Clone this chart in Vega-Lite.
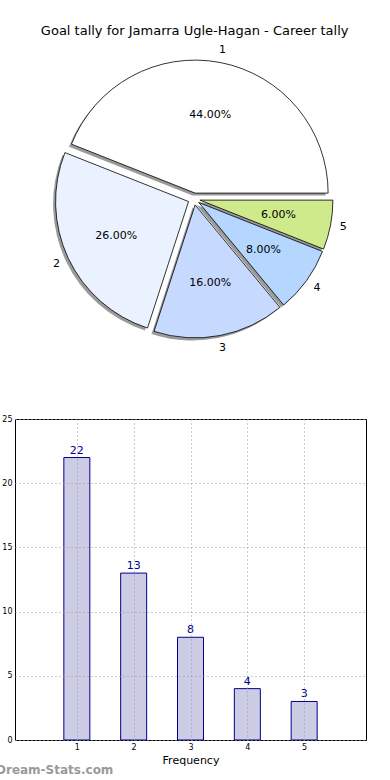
{
  "$schema": "https://vega.github.io/schema/vega-lite/v6.json",
  "background": "white",
  "padding": {"left": -12, "top": 24, "right": 0, "bottom": 0},
  "title": {"text": "Goal tally for Jamarra Ugle-Hagan - Career tally", "fontSize": 13, "fontWeight": "normal", "font": "DejaVu Sans", "color": "black", "anchor": "middle", "offset": 6, "dx": 14},
  "datasets": {
    "goals": [
      {"goals": 1, "n": 22, "share": 0.44},
      {"goals": 2, "n": 13, "share": 0.26},
      {"goals": 3, "n": 8, "share": 0.16},
      {"goals": 4, "n": 4, "share": 0.08},
      {"goals": 5, "n": 3, "share": 0.06}
    ]
  },
  "spacing": 60,
  "vconcat": [
    {
      "width": 358,
      "height": 300,
      "data": {"name": "goals"},
      "view": {"stroke": null},
      "encoding": {
        "theta": {"field": "n", "type": "quantitative", "stack": true, "scale": {"range": [1.5708, -4.7124]}},
        "order": {"field": "goals", "type": "quantitative", "sort": "ascending"}
      },
      "layer": [
        {
          "mark": {"type": "arc", "outerRadius": 133, "fill": "#9a9a9a",
            "xOffset": {"expr": "-2.5 + 6*sin(PI/2 - PI*(datum.n_start+datum.n_end)/50)"},
            "yOffset": {"expr": "2.5 - 6*cos(PI/2 - PI*(datum.n_start+datum.n_end)/50)"}}
        },
        {
          "mark": {"type": "arc", "outerRadius": 133, "stroke": "black", "strokeWidth": 0.8,
            "xOffset": {"expr": "6*sin(PI/2 - PI*(datum.n_start+datum.n_end)/50)"},
            "yOffset": {"expr": "-6*cos(PI/2 - PI*(datum.n_start+datum.n_end)/50)"}},
          "encoding": {
            "color": {"field": "goals", "type": "nominal", "legend": null,
              "scale": {"domain": [1, 2, 3, 4, 5], "range": ["#ffffff", "#ebf2ff", "#c6d9ff", "#b4d6ff", "#cfea8a"]}}
          }
        },
        {
          "mark": {"type": "text", "radius": 80, "fontSize": 11, "font": "DejaVu Sans", "color": "black",
            "xOffset": {"expr": "6*sin(PI/2 - PI*(datum.n_start+datum.n_end)/50)"},
            "yOffset": {"expr": "-6*cos(PI/2 - PI*(datum.n_start+datum.n_end)/50)"}},
          "encoding": {"text": {"field": "share", "type": "quantitative", "format": ".2%"}}
        },
        {
          "mark": {"type": "text", "radius": 146, "fontSize": 11, "font": "DejaVu Sans", "color": "black",
            "xOffset": {"expr": "6*sin(PI/2 - PI*(datum.n_start+datum.n_end)/50)"},
            "yOffset": {"expr": "-6*cos(PI/2 - PI*(datum.n_start+datum.n_end)/50)"}},
          "encoding": {"text": {"field": "goals", "type": "nominal"}}
        }
      ]
    },
    {
      "width": 351,
      "height": 321,
      "data": {"name": "goals"},
      "view": {"stroke": "black", "strokeWidth": 1},
      "title": {"text": "Dream-Stats.com", "orient": "bottom", "anchor": "start", "frame": "group", "fontSize": 12, "fontWeight": "bold", "font": "DejaVu Sans", "color": "#9a9a9a", "dx": -19, "offset": 0},
      "encoding": {
        "x": {"field": "goals", "type": "quantitative", "scale": {"domain": [0, 6], "nice": false},
          "axis": {"values": [1, 2, 3, 4, 5], "title": "Frequency", "titleFontSize": 11, "titleFontWeight": "normal", "titlePadding": 3, "labelFontSize": 8, "labelPadding": 3, "ticks": false, "domain": false, "grid": true, "gridDash": [1, 3], "gridColor": "#999999", "zindex": 1, "labelColor": "black", "titleColor": "black", "labelFont": "DejaVu Sans", "titleFont": "DejaVu Sans"}},
        "y": {"field": "n", "type": "quantitative", "scale": {"domain": [0, 25], "nice": false},
          "axis": {"values": [0, 5, 10, 15, 20, 25], "title": "Goals In Match", "titleFontSize": 10, "titleFontWeight": "normal", "titlePadding": 3, "labelFontSize": 8, "labelPadding": 3, "ticks": false, "domain": false, "grid": true, "gridDash": [1, 3], "gridColor": "#999999", "zindex": 1, "labelColor": "black", "titleColor": "black", "labelFont": "DejaVu Sans", "titleFont": "DejaVu Sans"}}
      },
      "layer": [
        {"mark": {"type": "bar", "size": 26, "fill": "#ccccE5", "stroke": "#00008b", "strokeWidth": 1}},
        {"mark": {"type": "text", "dy": -7, "fontSize": 11, "font": "DejaVu Sans", "color": "#00008b"},
          "encoding": {"text": {"field": "n", "type": "quantitative"}}}
      ]
    }
  ]
}
